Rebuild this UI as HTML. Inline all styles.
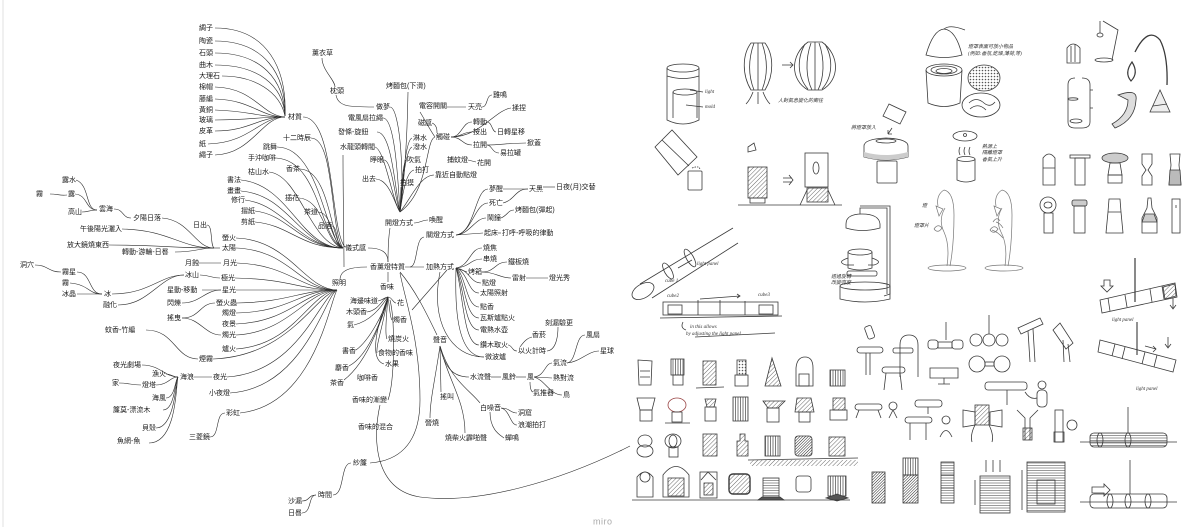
<!DOCTYPE html>
<html><head><meta charset="utf-8">
<style>
html,body{margin:0;padding:0;background:#fff;}
svg{display:block;}
text{dominant-baseline:middle;}
.t{font-family:"Liberation Sans","Noto Sans CJK TC",sans-serif;font-size:7px;fill:#1a1a1a;}
.l{fill:none;stroke:#2a2a2a;stroke-width:0.6;}
.s{fill:none;stroke:#3a3a3a;stroke-width:0.8;}
.sg{fill:none;stroke:#777;stroke-width:0.7;}
.hw{font-family:"Liberation Serif","Noto Sans CJK TC",serif;font-size:5px;fill:#333;font-style:italic;}
</style></head><body>
<svg width="1200" height="527" viewBox="0 0 1200 527" xmlns="http://www.w3.org/2000/svg">
<defs>
<pattern id="hp" width="3" height="3" patternUnits="userSpaceOnUse" patternTransform="rotate(45)"><line x1="0" y1="0" x2="0" y2="3" stroke="#444" stroke-width="0.8"/></pattern>
<pattern id="hd" width="2" height="2" patternUnits="userSpaceOnUse" patternTransform="rotate(45)"><line x1="0" y1="0" x2="0" y2="2" stroke="#222" stroke-width="1"/></pattern>
<pattern id="vs" width="2.5" height="3" patternUnits="userSpaceOnUse"><line x1="0.5" y1="0" x2="0.5" y2="3" stroke="#444" stroke-width="0.7"/></pattern>
<pattern id="hs" width="3" height="2.5" patternUnits="userSpaceOnUse"><line x1="0" y1="0.5" x2="3" y2="0.5" stroke="#555" stroke-width="0.6"/></pattern>
<pattern id="dt" width="3" height="3" patternUnits="userSpaceOnUse"><circle cx="1.5" cy="1.5" r="0.8" fill="#555"/></pattern>
</defs>
<rect width="1200" height="527" fill="#fff"/>
<line x1="3" y1="0" x2="3" y2="527" stroke="#e2e2e2" stroke-width="1"/>

<!-- ================= MIND MAP CONNECTORS ================= -->
<g class="l">
<path d="M215,28 C268,28 287,70 285,116"/>
<path d="M215,41 C265,41 286,75 285,116"/>
<path d="M215,53 C262,53 284,80 285,116"/>
<path d="M215,65 C258,65 283,85 285,116"/>
<path d="M222,76 C255,76 280,92 285,116"/>
<path d="M215,87 C255,88 262,116 285,117"/>
<path d="M215,99 C252,100 260,117 285,117"/>
<path d="M215,110 C250,111 258,117 285,117"/>
<path d="M215,120 C250,120 258,117 285,117"/>
<path d="M215,131 C250,131 258,117 285,117"/>
<path d="M208,144 C250,143 260,117 285,117"/>
<path d="M215,155 C252,154 262,117 285,117"/>
<path d="M303,117 C335,117 330,230 345,247"/>
<path d="M311,138 C335,138 330,230 343,248"/>
<path d="M277,147 C320,147 325,240 343,248"/>
<path d="M276,158 C320,160 320,240 343,248"/>
<path d="M300,169 C330,170 330,240 343,248"/>
<path d="M269,172 C300,175 310,245 343,248"/>
<path d="M241,180 C290,185 300,248 343,248"/>
<path d="M241,191 C290,195 300,248 343,248"/>
<path d="M245,200 C285,205 300,248 343,248"/>
<path d="M299,198 C325,200 325,245 343,248"/>
<path d="M255,211 C290,215 300,248 343,248"/>
<path d="M318,212 C333,212 333,248 343,248"/>
<path d="M255,222 C290,225 300,248 343,248"/>
<path d="M332,226 C338,226 336,248 343,248"/>
<path d="M368,248 C385,248 388,255 388,262"/>
<path d="M343,155 C343,200 344,240 344,267"/>
<path d="M162,218 C190,220 195,248 214,248"/>
<path d="M207,225 C213,225 210,245 214,248"/>
<path d="M122,229 C170,230 180,248 214,248"/>
<path d="M109,245 C160,245 170,248 214,248"/>
<path d="M175,252 C195,252 200,248 214,248"/>
<path d="M214,248 L220,248"/>
<path d="M76,180 C90,185 85,210 97,210"/>
<path d="M75,194 C88,195 85,210 97,210"/>
<path d="M82,212 C88,212 90,210 97,210"/>
<path d="M50,194 C58,194 60,196 67,195"/>
<path d="M114,209 C124,209 122,218 131,218"/>
<path d="M199,263 L221,263"/>
<path d="M35,265 C48,265 48,272 61,272"/>
<path d="M77,272 C92,272 88,294 102,294"/>
<path d="M70,283 C90,285 88,294 102,294"/>
<path d="M77,294 L102,294"/>
<path d="M112,294 C150,294 160,275 184,275"/>
<path d="M118,305 C150,305 160,275 184,275"/>
<path d="M200,275 C210,275 210,278 220,278"/>
<path d="M202,290 L221,290"/>
<path d="M182,303 C200,303 205,290 221,290"/>
<path d="M182,318 C200,318 200,303 215,303"/>
<path d="M182,318 C200,318 205,335 221,335"/>
<path d="M146,330 C175,330 175,359 198,359"/>
<path d="M142,365 C160,365 165,377 178,377"/>
<path d="M166,374 C172,374 172,377 178,377"/>
<path d="M156,385 C168,385 170,377 178,377"/>
<path d="M166,398 C175,398 175,380 178,377"/>
<path d="M163,410 C175,410 175,380 178,377"/>
<path d="M156,428 C175,428 176,380 178,377"/>
<path d="M149,443 C178,443 176,380 178,377"/>
<path d="M119,383 C130,383 130,385 141,385"/>
<path d="M194,377 L212,377"/>
<path d="M210,437 C220,437 215,413 225,413"/>
<path d="M236,248 C290,250 300,290 337,290"/>
<path d="M236,238 C290,240 305,290 337,290"/>
<path d="M237,263 C290,265 300,290 337,290"/>
<path d="M235,278 C290,279 300,290 337,290"/>
<path d="M236,290 L337,290"/>
<path d="M237,303 C290,302 300,290 337,290"/>
<path d="M236,313 C290,312 300,290 337,290"/>
<path d="M236,324 C290,322 305,290 337,290"/>
<path d="M236,335 C290,332 305,292 337,290"/>
<path d="M236,349 C295,345 310,292 337,290"/>
<path d="M213,359 C290,356 315,295 337,290"/>
<path d="M227,377 C300,372 320,295 337,290"/>
<path d="M230,393 C305,388 325,295 337,290"/>
<path d="M240,413 C315,405 330,300 337,290"/>
<path d="M340,280 C340,270 350,267 367,267"/>
<path d="M408,92 C407,150 403,190 400,212"/>
<path d="M390,107 C400,107 405,180 400,212"/>
<path d="M322,58 C322,70 335,80 335,87"/>
<path d="M336,95 C338,107 350,107 374,107"/>
<path d="M383,118 C395,118 398,180 400,212"/>
<path d="M377,132 C392,132 395,190 400,212"/>
<path d="M375,147 C385,150 392,200 400,212"/>
<path d="M384,160 C392,160 395,200 400,212"/>
<path d="M376,179 C390,180 395,205 400,212"/>
<path d="M412,138 C405,140 402,190 400,212"/>
<path d="M412,147 C405,150 402,190 400,212"/>
<path d="M406,160 C402,165 401,200 400,212"/>
<path d="M414,170 C405,172 402,200 400,212"/>
<path d="M401,187 L400,212"/>
<path d="M435,137 C425,140 430,190 400,212"/>
<path d="M420,112 C425,120 430,130 435,137"/>
<path d="M432,123 C437,125 437,130 437,133"/>
<path d="M447,107 L466,107"/>
<path d="M482,107 C488,107 486,95 492,95"/>
<path d="M451,137 C462,137 462,122 472,122"/>
<path d="M451,137 C462,137 462,132 472,132"/>
<path d="M451,137 C462,137 462,145 472,145"/>
<path d="M451,137 C480,137 495,110 511,108"/>
<path d="M487,122 C492,122 492,132 496,132"/>
<path d="M487,145 C500,145 510,143 526,143"/>
<path d="M487,145 C492,145 492,153 499,153"/>
<path d="M468,160 L476,162"/>
<path d="M434,175 C420,175 410,200 400,212"/>
<path d="M390,228 C388,240 388,255 388,262"/>
<path d="M414,223 C420,223 422,220 428,220"/>
<path d="M456,235 C475,233 475,189 488,189"/>
<path d="M456,235 C472,233 475,203 488,203"/>
<path d="M456,235 C470,234 475,218 486,218"/>
<path d="M456,235 L483,233"/>
<path d="M503,189 L528,189"/>
<path d="M503,203 C515,200 515,189 528,189"/>
<path d="M543,187 L555,187"/>
<path d="M501,218 C508,215 508,210 514,210"/>
<path d="M498,233 L501,233"/>
<path d="M424,237 C415,238 418,267 410,267"/>
<path d="M405,267 L424,267"/>
<path d="M456,268 C470,266 470,248 482,248"/>
<path d="M456,268 C470,267 470,259 482,259"/>
<path d="M456,268 L467,272"/>
<path d="M456,268 C470,270 470,283 481,283"/>
<path d="M456,268 C468,272 468,293 479,293"/>
<path d="M456,268 C466,275 466,307 479,307"/>
<path d="M456,268 C465,280 465,318 479,318"/>
<path d="M456,268 C464,285 464,330 479,330"/>
<path d="M456,268 C463,290 463,345 479,345"/>
<path d="M456,268 C455,300 455,357 484,357"/>
<path d="M440,272 C430,320 450,357 484,357"/>
<path d="M447,270 L412,310"/>
<path d="M482,272 C495,272 495,262 507,262"/>
<path d="M482,272 C495,272 500,278 511,278"/>
<path d="M526,278 L548,278"/>
<path d="M508,345 C512,345 512,351 517,351"/>
<path d="M520,347 C525,340 528,338 532,337"/>
<path d="M547,351 C558,350 558,330 558,327"/>
<path d="M400,272 C415,290 425,310 437,335"/>
<path d="M440,346 C445,370 455,377 469,377"/>
<path d="M440,346 L441,392"/>
<path d="M440,346 C435,380 430,400 430,418"/>
<path d="M440,346 C448,380 465,400 465,433"/>
<path d="M440,346 C450,380 470,390 480,403"/>
<path d="M491,377 L501,377"/>
<path d="M516,377 L526,377"/>
<path d="M534,377 C545,376 545,363 552,363"/>
<path d="M534,377 L552,378"/>
<path d="M534,377 C545,380 550,395 562,395"/>
<path d="M530,382 C530,390 532,392 533,392"/>
<path d="M567,363 C577,362 575,335 585,335"/>
<path d="M567,363 C580,362 588,351 599,351"/>
<path d="M501,408 C510,408 510,413 517,413"/>
<path d="M501,408 C510,410 510,425 517,425"/>
<path d="M490,412 C490,430 500,435 504,438"/>
<path d="M388,272 L388,282"/>
<path d="M378,301 C383,300 385,297 388,297"/>
<path d="M367,312 C380,310 383,297 388,297"/>
<path d="M388,297 C392,297 393,303 396,303"/>
<path d="M388,297 C390,310 390,318 392,320"/>
<path d="M354,325 C375,320 385,300 388,297"/>
<path d="M388,297 C386,320 385,335 387,339"/>
<path d="M388,297 C382,330 376,345 377,353"/>
<path d="M356,350 C370,340 385,310 388,297"/>
<path d="M388,297 C375,330 370,360 384,364"/>
<path d="M349,366 C370,355 385,310 388,297"/>
<path d="M344,380 C370,360 385,310 388,297"/>
<path d="M388,400 C395,380 395,320 390,300"/>
<path d="M380,405 C372,440 375,490 420,497 C480,505 560,480 622,450"/>
<path d="M370,463 C410,460 420,430 420,400 C420,340 405,300 400,273"/>
<path d="M333,495 C345,495 340,463 351,463"/>
<path d="M302,501 C310,501 308,495 316,495"/>
<path d="M302,513 C312,513 308,495 316,495"/>
</g>

<!-- ================= MIND MAP LABELS ================= -->
<g class="t">
<text x="199" y="28">綢子</text><text x="199" y="41">陶瓷</text><text x="199" y="53">石頭</text><text x="199" y="65">曲木</text><text x="199" y="76">大理石</text><text x="199" y="87">棉帽</text><text x="199" y="99">藤編</text><text x="199" y="110">黃銅</text><text x="199" y="120">玻璃</text><text x="199" y="131">皮革</text><text x="199" y="144">紙</text><text x="199" y="155">繩子</text>
<text x="288" y="117">材質</text>
<text x="283" y="138">十二時辰</text><text x="263" y="147">跳舞</text><text x="248" y="158">手沖咖啡</text><text x="286" y="169">香茶</text><text x="248" y="172">枯山水</text><text x="227" y="180">書法</text><text x="227" y="191">畫畫</text><text x="231" y="200">修行</text><text x="285" y="198">插花</text><text x="241" y="211">摺紙</text><text x="304" y="212">茶道</text><text x="241" y="222">剪紙</text><text x="318" y="226">品酒</text>
<text x="345" y="248">儀式感</text>
<text x="62" y="180">露水</text><text x="36" y="194">霧</text><text x="68" y="194">露</text><text x="68" y="212">高山</text><text x="99" y="209">雲海</text><text x="133" y="218">夕陽日落</text><text x="193" y="225">日出</text><text x="80" y="229">午後陽光灑入</text><text x="67" y="245">放大鏡燒東西</text><text x="122" y="252">轉動-游輪-日晷</text><text x="222" y="238">螢火</text><text x="222" y="248">太陽</text><text x="185" y="263">月蝕</text><text x="223" y="263">月光</text>
<text x="20" y="265">洞穴</text><text x="62" y="272">霧星</text><text x="62" y="283">霧</text><text x="62" y="294">冰晶</text><text x="104" y="294">冰</text><text x="103" y="305">融化</text><text x="185" y="275">冰山</text><text x="221" y="278">極光</text><text x="167" y="290">星動-移動</text><text x="222" y="290">星光</text><text x="167" y="303">閃爍</text><text x="216" y="303">螢火蟲</text><text x="167" y="318">搖曳</text><text x="222" y="313">燭燈</text><text x="222" y="324">夜景</text><text x="222" y="335">燭光</text><text x="105" y="330">蚊香-竹編</text><text x="222" y="349">爐火</text><text x="199" y="359">煙霧</text><text x="113" y="365">夜光劇場</text><text x="152" y="374">漁火</text><text x="180" y="377">海浪</text><text x="213" y="377">夜光</text><text x="112" y="383">家</text><text x="142" y="385">燈塔</text><text x="209" y="393">小夜燈</text><text x="152" y="398">海風</text><text x="113" y="410">簾莫-漂流木</text><text x="226" y="413">彩虹</text><text x="142" y="428">貝殼</text><text x="189" y="437">三菱鏡</text><text x="117" y="441">魚網-魚</text>
<text x="288" y="501">沙漏</text><text x="288" y="513">日晷</text><text x="318" y="495">時間</text><text x="353" y="463">紗簾</text>
<text x="312" y="53">薰衣草</text><text x="330" y="91">枕頭</text><text x="386" y="86">烤麵包(下滑)</text><text x="376" y="107">做夢</text><text x="348" y="118">電風扇拉繩</text><text x="338" y="132">發條-旋鈕</text><text x="340" y="147">水龍頭轉閥</text><text x="370" y="160">睜眼</text><text x="362" y="179">出去</text><text x="400" y="183">拍摸</text><text x="413" y="138">淋水</text><text x="413" y="147">潑水</text><text x="407" y="160">吹氣</text><text x="415" y="170">拍打</text>
<text x="419" y="106">電容開關</text><text x="468" y="107">天亮</text><text x="493" y="95">雞鳴</text><text x="512" y="108">揉捏</text><text x="418" y="123">磁感</text><text x="436" y="137">觸碰</text><text x="473" y="122">轉動</text><text x="473" y="132">按出</text><text x="497" y="132">日轉星移</text><text x="473" y="145">拉開</text><text x="527" y="143">掀蓋</text><text x="500" y="153">易拉罐</text><text x="447" y="160">捕蚊燈</text><text x="477" y="163">花開</text><text x="435" y="175">靠近自動點燈</text>
<text x="385" y="223">開燈方式</text><text x="429" y="220">喚醒</text>
<text x="489" y="189">夢醒</text><text x="529" y="189">天黑</text><text x="556" y="187">日夜(月)交替</text><text x="489" y="203">死亡</text><text x="515" y="210">烤麵包(彈起)</text><text x="487" y="218">鬧鐘</text><text x="484" y="233">起床</text><text x="502" y="233">打呼-呼吸的律動</text><text x="426" y="235">關燈方式</text>
<text x="370" y="267">香薰燈特質</text><text x="426" y="267">加熱方式</text><text x="332" y="283">照明</text>
<text x="483" y="248">燒焦</text><text x="483" y="259">串燒</text><text x="468" y="272">烤箱</text><text x="508" y="262">鐵板燒</text><text x="512" y="278">雷射</text><text x="549" y="278">燈光秀</text><text x="482" y="283">點燈</text><text x="480" y="293">太陽照射</text><text x="480" y="307">點香</text><text x="480" y="318">瓦斯爐點火</text><text x="480" y="330">電熱水壺</text><text x="480" y="345">鑽木取火</text><text x="485" y="357">微波爐</text><text x="518" y="351">以火計時</text><text x="532" y="335">香菸</text><text x="545" y="323">刻漏驗更</text><text x="586" y="335">風扇</text><text x="600" y="351">星球</text><text x="553" y="363">氣流</text><text x="553" y="378">熱對流</text><text x="470" y="377">水流聲</text><text x="502" y="377">風鈴</text><text x="527" y="377">風</text><text x="533" y="393">氣推器</text><text x="563" y="395">鳥</text>
<text x="433" y="340">聲音</text><text x="440" y="397">搖叫</text><text x="480" y="408">白噪音</text><text x="518" y="413">洞窟</text><text x="518" y="425">浪潮拍打</text><text x="425" y="423">營燒</text><text x="445" y="438">燒柴火霹啪聲</text><text x="505" y="438">蟬鳴</text>
<text x="380" y="287">香味</text><text x="350" y="301">海邊味道</text><text x="346" y="312">木頭香</text><text x="397" y="303">花</text><text x="393" y="320">燭香</text><text x="347" y="325">氣</text><text x="388" y="339">燒炭火</text><text x="378" y="353">食物的香味</text><text x="342" y="351">書香</text><text x="385" y="364">水果</text><text x="335" y="368">麝香</text><text x="330" y="383">茶香</text><text x="357" y="378">咖啡香</text><text x="352" y="400">香味的漸變</text><text x="358" y="427">香味的混合</text>
</g>
<text x="593" y="522" style="font-family:'Liberation Sans',sans-serif;font-size:9px;fill:#aaa;letter-spacing:0.5px">miro</text>

<!-- ================= SKETCHES ================= -->
<g class="s">
<ellipse cx="683" cy="68" rx="16" ry="4"/>
<path d="M667,68 L667,120 Q683,128 699,120 L699,68"/>
<path d="M667,76 Q683,81 699,76"/>
<ellipse cx="685" cy="92" rx="12" ry="3"/>
<path d="M673,92 L673,118 M697,92 L697,118"/>
<path d="M690,90 L703,92 M686,105 L703,107"/>
<path d="M655,147 L672,130 L697,157 L678,175 Z"/>
<path d="M662,140 L689,166"/>
<rect x="688" y="171" width="14" height="19" rx="1"/>
<path d="M692,168 Q700,165 700,170" stroke-dasharray="1.5,1"/>
<path d="M751,43 C742,55 742,75 751,90 L765,90 C774,75 774,55 765,43 Z"/>
<path d="M754,43 C748,60 748,75 754,90 M758,43 L758,90 M762,43 C768,60 768,75 762,90"/>
<path d="M753,92 Q750,100 746,104 M758,92 L758,104 M763,92 Q766,100 770,104"/>
<path d="M782,65 L793,65 M790,62 L793,65 L790,68"/>
<path d="M808,42 C790,55 790,80 808,90 L822,90 C840,80 840,55 822,42 Z"/>
<path d="M805,44 C796,60 798,78 808,89 M811,43 C805,60 806,78 812,90 M815,42 L815,90 M819,43 C825,60 824,78 818,90 M825,44 C834,60 832,78 822,89"/>
<path d="M738,205 L842,205"/>
<rect x="748" y="167" width="19" height="31" fill="url(#hp)"/>
<rect x="750" y="198" width="15" height="5"/>
<rect x="805" y="153" width="23" height="34"/>
<ellipse cx="816" cy="168" rx="3" ry="6"/>
<rect x="807" y="188" width="21" height="14" fill="url(#hp)"/>
<path d="M800,205 L807,190 M835,205 L828,190"/>
<path d="M783,178 L792,178 M783,182 L792,182 M789,175 L793,180 L789,185"/>
<path d="M748,147 L754,143 L756,150 L748,152 Z"/>
<!-- mushroom lamp -->
<path d="M864,146 Q864,139 886,138 Q908,139 908,146 L908,157 Q886,163 864,157 Z"/>
<path d="M864,152 Q886,158 908,152 L908,157 Q886,163 864,157 Z" fill="#ccc" stroke="none"/>
<ellipse cx="886" cy="141" rx="10" ry="2"/>
<rect x="877" y="161" width="20" height="22" rx="1"/>
<path d="M889,104 L906,112 L900,124 L883,116 Z"/>
<path d="M892,128 L888,134 M888,134 L892,134 M888,134 L888,130"/>
<!-- lower lamp -->
<path d="M846,224 Q846,214 862,214 Q879,214 880,224 L880,228 Q862,233 846,228 Z"/>
<path d="M860,214 L860,208 L887,208 L887,294 M860,206 L890,206 L890,294 L884,296"/>
<ellipse cx="860" cy="252" rx="12" ry="3"/>
<path d="M848,252 L848,268 Q860,272 872,268 L872,252"/>
<path d="M848,258 Q836,262 846,265 M872,258 Q884,262 874,265 M846,265 L854,265 M874,265 L868,265"/>
<rect x="847" y="271" width="30" height="5" rx="2"/>
<ellipse cx="865" cy="286" rx="25" ry="4"/>
<path d="M840,286 L840,299 Q865,305 890,299 L890,286"/>
<path d="M640,284 L733,228 M652,298 L738,243"/>
<ellipse cx="643" cy="291" rx="12" ry="7" transform="rotate(-30 643 291)"/>
<ellipse cx="690" cy="258" rx="3.5" ry="10" transform="rotate(-30 690 258)"/>
<ellipse cx="668" cy="271" rx="3.5" ry="9" transform="rotate(-30 668 271)"/>
<path d="M678,268 L692,260"/>
<rect x="663" y="302" width="115" height="13"/>
<path d="M698,300 L698,315 M720,300 L720,315 M745,301 L745,315"/>
<rect x="668" y="305" width="14" height="9"/>
<rect x="759" y="305" width="14" height="9"/>
<path d="M700,299 L740,296 M737,294 L740,296 L737,298"/>
<path d="M660,318 L782,316"/>
<path d="M683,322 Q680,328 686,330 M695,337 L775,333"/>
</g>
<g class="hw">
<text x="705" y="92">light</text><text x="705" y="107">mold</text>
<text x="778" y="101">人對氣息變化的嚮往</text>
<text x="851" y="128">將燈罩放入</text>
<text x="831" y="277">透過旋轉</text><text x="831" y="283">改變亮度</text>
<text x="697" y="264">light panel</text>
<text x="665" y="281">cube 1</text>
<text x="667" y="296">cube2</text><text x="758" y="295">cube3</text>
<text x="690" y="327">in this allows</text><text x="686" y="334">by adjusting the light panel</text>
<text x="968" y="47">燈罩表面可放小物品</text><text x="968" y="54">(例如:香氛,乾燥,薄荷,等)</text>
<text x="982" y="147">熱源上</text><text x="982" y="153">隔離燈罩</text><text x="982" y="160">香氣上升</text>
<text x="922" y="206">燈</text><text x="914" y="226">燈罩片</text>
<text x="1112" y="320">light panel</text><text x="1136" y="389">light panel</text>
</g>

<!-- grid sketches -->
<g class="s">
<path d="M638,360 L652,361 L651,385 L639,385 Z M640,371 L650,371 M640,377 L650,377"/>
<rect x="671" y="359" width="13" height="16" fill="url(#vs)"/><rect x="673" y="375" width="10" height="10"/>
<rect x="703" y="361" width="13" height="24" fill="url(#hp)"/><path d="M696,388 L724,387"/>
<rect x="737" y="360" width="9" height="15" fill="url(#dt)"/><rect x="735" y="375" width="13" height="11"/>
<path d="M772,358 L765,386 L781,386 Z" fill="url(#hp)"/>
<path d="M796,386 L796,368 Q797,357 805,357 Q813,357 813,368 L813,386 Z"/><rect x="799" y="374" width="10" height="12"/>
<rect x="830" y="370" width="15" height="16" fill="url(#vs)"/>
<path d="M637,398 L655,398 L652,410 L640,410 Z"/><rect x="640" y="410" width="12" height="11"/>
<ellipse cx="677" cy="405" rx="9" ry="7" stroke="#944"/><rect x="672" y="412" width="10" height="10"/><path d="M665,423 L690,423"/>
<path d="M705,399 L716,399 L714,407 L707,407 Z" fill="url(#hp)"/><rect x="705" y="407" width="11" height="14"/>
<rect x="733" y="397" width="15" height="24" fill="url(#vs)"/>
<path d="M763,401 L785,401 L778,408 L768,408 Z" fill="url(#hp)"/><rect x="767" y="408" width="12" height="14"/>
<path d="M797,398 L811,398 L814,412 L795,412 Z" fill="url(#hp)"/><rect x="799" y="412" width="11" height="10"/>
<rect x="833" y="398" width="12" height="12" fill="url(#hp)"/><rect x="830" y="410" width="17" height="10"/>
<ellipse cx="645" cy="441" rx="7" ry="6"/><ellipse cx="645" cy="451" rx="8" ry="6"/>
<ellipse cx="673" cy="441" rx="8" ry="7"/><ellipse cx="673" cy="441" rx="4" ry="6"/><rect x="669" y="447" width="9" height="10"/>
<rect x="703" y="434" width="14" height="22" fill="url(#hp)"/>
<path d="M737,456 L737,441 L740,441 L740,434 L745,434 L745,441 L748,441 L748,456 Z" fill="url(#hp)"/>
<rect x="765" y="436" width="15" height="20" fill="url(#vs)"/>
<rect x="795" y="436" width="17" height="20" rx="3" fill="url(#hd)"/>
<rect x="829" y="437" width="16" height="19" fill="url(#hp)"/>
<path d="M748,460 L858,458"/>
<rect x="750" y="460" width="108" height="6" fill="url(#hp)" stroke="none"/>
<path d="M637,497 L637,477 Q645,467 653,477 L653,497 Z"/><circle cx="645" cy="477" r="5"/>
<path d="M663,497 L663,475 Q676,458 689,475 L689,497 Z"/><rect x="668" y="478" width="16" height="18" fill="url(#hp)"/>
<rect x="700" y="472" width="17" height="26"/><path d="M701,480 L708,472 L716,480"/><rect x="704" y="483" width="9" height="12" fill="url(#hp)"/>
<rect x="729" y="474" width="21" height="20" rx="4" stroke-width="1.4" fill="url(#hp)"/>
<rect x="763" y="478" width="16" height="19" fill="url(#hs)"/><path d="M758,500 L762,497 L780,497 L784,500 Z" fill="#555"/>
<rect x="796" y="476" width="15" height="16" rx="3"/>
<rect x="828" y="476" width="18" height="20" fill="url(#vs)"/><path d="M826,498 L837,494 L848,498 L837,501 Z" fill="#555"/>
<path d="M632,500 L850,500"/>
<rect x="872" y="472" width="13" height="31" fill="url(#hd)"/>
<rect x="903" y="458" width="15" height="17" fill="url(#vs)"/><rect x="903" y="475" width="15" height="28" fill="url(#hd)"/>
<rect x="941" y="462" width="13" height="41" fill="url(#hs)"/><path d="M941,475 L954,475 M941,488 L954,488"/>
<rect x="980" y="476" width="30" height="37" fill="url(#hs)"/><path d="M986,460 L986,472 M993,460 L993,472 M1000,460 L1000,472 M975,480 L975,505"/>
<rect x="1027" y="462" width="38" height="50" fill="url(#hs)"/><rect x="1037" y="480" width="18" height="24"/><path d="M1022,470 L1022,510"/>
</g>

<g class="s">
<rect x="866" y="326" width="7" height="13" rx="2" transform="rotate(-20 869 332)"/>
<rect x="857" y="347" width="26" height="6" rx="3"/><path d="M866,353 L866,375 M870,353 L870,375"/>
<path d="M900,377 L900,345 Q900,335 909,335 Q918,335 918,345 L918,377"/><rect x="893" y="348" width="20" height="5" rx="2"/>
<rect x="882" y="367" width="23" height="6" rx="3"/><path d="M886,373 L884,390 M900,373 L902,390"/>
<rect x="855" y="404" width="27" height="6" rx="3"/><path d="M859,410 L856,418 M878,410 L881,418"/>
<circle cx="893" cy="406" r="4"/><path d="M893,410 L889,418 M893,410 L897,418"/>
<rect x="915" y="400" width="27" height="7" rx="3"/><path d="M928,407 L928,414"/>
<rect x="905" y="417" width="27" height="6" rx="3"/><path d="M910,423 L910,440 M926,423 L926,440"/>
<circle cx="946" cy="420" r="4"/><path d="M940,437 Q946,424 952,437"/>
<rect x="928" y="340" width="10" height="9" rx="3"/><rect x="938" y="342" width="14" height="6"/><rect x="952" y="340" width="11" height="9" rx="3"/><path d="M946,322 L946,340"/>
<path d="M930,368 L958,368 L958,378 L930,378 Z M944,378 L944,384 M938,384 L950,384"/>
<circle cx="976" cy="340" r="6"/><circle cx="989" cy="340" r="6"/><circle cx="1002" cy="340" r="6"/><path d="M989,315 L989,334"/>
<circle cx="977" cy="364" r="8"/><circle cx="1002" cy="364" r="8"/><rect x="985" y="362" width="9" height="4"/>
<path d="M1018,328 L1040,318 L1043,324 L1021,334 Z M1028,331 L1030,362 M1033,329 L1035,362"/>
<path d="M1053,330 L1060,323 L1073,343 L1066,349 Z M1063,340 L1064,362 M1068,344 L1070,362"/>
<rect x="985" y="382" width="42" height="8" rx="3"/><path d="M1007,390 L1007,405"/>
<circle cx="1042" cy="385" r="4"/><rect x="1037" y="390" width="10" height="17" rx="4"/><path d="M1025,392 Q1030,400 1037,398"/>
<rect x="975" y="405" width="14" height="20" fill="url(#hp)"/><path d="M963,410 L975,412 L975,425 L963,427 Z M990,412 L1002,410 L1002,427 L990,425 Z M975,425 Q970,435 972,442 M989,425 Q994,435 992,442"/>
<path d="M1025,440 L1025,418 L1017,410 M1030,440 L1030,418 L1038,410"/><rect x="1023" y="428" width="9" height="12" fill="url(#hp)"/>
<rect x="1055" y="410" width="8" height="32"/><circle cx="1072" cy="425" r="5"/><rect x="1054" y="432" width="10" height="10"/>
</g>

<g class="s">
<path d="M926,55 Q933,30 944,29 Q956,30 962,55 Q944,60 926,55 Z"/>
<path d="M944,29 Q950,24 965,30"/>
<ellipse cx="944" cy="70" rx="18" ry="6"/>
<path d="M926,70 L928,103 Q944,110 960,103 L962,70"/>
<ellipse cx="944" cy="70" rx="13" ry="4"/><ellipse cx="944" cy="71" rx="8" ry="2.5"/>
<ellipse cx="984" cy="78" rx="16" ry="13" fill="url(#dt)"/>
<ellipse cx="981" cy="105" rx="19" ry="12"/>
<path d="M969,103 Q976,96 984,103 Q990,108 995,102 M970,109 Q978,102 986,110"/>
<ellipse cx="965" cy="136" rx="12" ry="5"/><circle cx="965" cy="135" r="1.5"/>
<path d="M960,147 Q958,151 960,155 M965,147 Q963,151 965,155 M970,147 Q968,151 970,155"/>
<ellipse cx="966" cy="159" rx="9" ry="2.5"/><path d="M957,159 L957,180 Q966,184 975,180 L975,159"/>
</g>
<g class="sg">
<path d="M947,266 Q950,245 944,232 Q938,220 945,208 M944,190 Q936,195 938,206 M944,190 Q954,192 954,215 Q954,245 950,266"/>
<path d="M936,206 L943,209 L939,216 Z M934,229 Q938,223 942,228 Q938,234 934,229"/>
<ellipse cx="947" cy="268" rx="19" ry="3"/>
<path d="M1005,266 Q1008,245 1001,232 Q995,220 1002,208 M1002,190 Q994,195 996,206 M1002,190 Q1012,192 1012,215 Q1012,245 1008,266 M1003,238 Q998,232 992,230 M1003,228 Q1000,223 996,222"/>
<path d="M994,206 L1001,209 L997,216 Z M990,230 Q994,224 998,229 Q994,235 990,230 M993,222 Q997,216 1000,221"/>
<ellipse cx="1004" cy="268" rx="19" ry="3"/>
</g>
<g class="s">
<path d="M1067,63 L1067,48 Q1073,40 1080,48 L1080,63 Z M1071,46 L1071,62 M1075,44 L1075,62"/>
<path d="M1103,21 L1118,30 L1112,60 M1100,21 L1100,33"/><ellipse cx="1100" cy="35" rx="3" ry="2"/><ellipse cx="1104" cy="60" rx="9" ry="2"/>
<path d="M1135,52 Q1148,26 1160,40 Q1168,55 1167,85" stroke-width="1.3"/>
<path d="M1132,62 Q1124,73 1131,81 Q1139,73 1132,62 Z" stroke-width="1.2"/>
<path d="M1075,78 Q1068,78 1068,85 L1068,122 Q1068,128 1075,128 L1082,128 Q1090,128 1090,122 L1090,85 Q1090,78 1082,78"/>
<ellipse cx="1073" cy="99" rx="5" ry="1.2"/><ellipse cx="1076" cy="121" rx="6" ry="2"/><path d="M1090,90 L1093,90 M1090,108 L1093,108"/>
<path d="M1118,95 Q1138,88 1136,100 Q1135,120 1115,128 L1112,124 Q1128,115 1128,100 Z" fill="#ddd"/>
<path d="M1160,90 L1150,112 L1170,112 Z M1153,106 L1167,104" fill="#eee"/>
<path d="M1043,185 L1043,158 Q1049,150 1055,158 L1055,185 Z M1043,168 L1055,168"/>
<rect x="1070" y="155" width="20" height="3"/><rect x="1075" y="158" width="10" height="27"/>
<ellipse cx="1115" cy="158" rx="13" ry="5" fill="#ccc"/><path d="M1110,163 L1120,163 L1122,175 L1108,175 Z"/><rect x="1108" y="175" width="14" height="8"/>
<path d="M1142,154 L1152,154 L1152,164 L1148,170 L1152,176 L1152,185 L1142,185 L1142,176 L1146,170 L1142,164 Z"/>
<path d="M1170,154 L1180,154 L1179,165 L1181,185 L1169,185 L1171,165 Z"/><path d="M1170,170 L1180,170 L1181,185 L1169,185 Z" fill="#bbb"/>
<circle cx="1048" cy="205" r="8"/><ellipse cx="1048" cy="205" rx="4" ry="3"/><rect x="1044" y="213" width="9" height="20"/>
<rect x="1072" y="200" width="15" height="6" rx="2" fill="#ccc"/><rect x="1074" y="206" width="11" height="27"/>
<path d="M1109,199 L1120,199 L1121,212 L1123,233 L1106,233 L1108,212 Z M1108,212 L1121,212"/>
<path d="M1148,198 L1151,198 L1152,208 L1157,218 L1157,233 L1142,233 L1142,218 L1147,208 Z" />
<path d="M1145,214 L1154,214 L1157,222 L1142,222 Z" fill="#ccc"/>
<rect x="1172" y="199" width="8" height="34"/><path d="M1176,205 L1176,208"/>
</g>

<g class="s">
<path d="M1100,300 L1175,283 L1177,297 L1102,313 Z"/>
<path d="M1108,298 L1110,311 M1125,295 L1127,307 M1150,289 L1152,302 M1162,286 L1164,299"/>
<path d="M1163,287 L1175,284 L1176,296 L1165,299 Z" fill="url(#hp)"/>
<path d="M1135,258 L1135,302" stroke-width="1.2"/>
<path d="M1104,280 L1110,280 L1110,286 L1113,286 L1107,292 L1101,286 L1104,286 Z"/>
<path d="M1173,298 L1173,308 M1170,305 L1173,309 L1176,305"/>
<path d="M1100,340 L1176,360 L1173,372 L1098,352 Z"/>
<path d="M1115,344 L1112,356 M1125,347 L1122,359 M1145,352 L1142,364 M1157,355 L1154,367"/>
<path d="M1137,322 L1137,355" stroke-width="1.1"/>
<path d="M1168,337 L1168,347 M1165,344 L1168,348 L1171,344"/>
<path d="M1145,346 L1156,349 M1153,346 L1156,349 L1153,352"/>
<rect x="1090" y="433" width="77" height="14" rx="4" fill="url(#hs)"/>
<path d="M1080,442 L1177,442"/>
<ellipse cx="1100" cy="440" rx="3" ry="7"/><ellipse cx="1128" cy="440" rx="3" ry="7"/>
<path d="M1128,407 L1128,433"/>
<rect x="1090" y="494" width="77" height="14" rx="4"/>
<path d="M1080,502 L1177,502"/>
<ellipse cx="1110" cy="501" rx="3" ry="7"/><ellipse cx="1128" cy="501" rx="3" ry="7"/><ellipse cx="1148" cy="501" rx="3" ry="7"/>
<path d="M1130,460 L1130,494"/>
<path d="M1092,487 L1104,487 L1104,484 L1110,490 L1104,496 L1104,493 L1092,493 Z"/>
</g>
<path d="M620,451 L630,446" class="l"/>
</svg>
</body></html>
